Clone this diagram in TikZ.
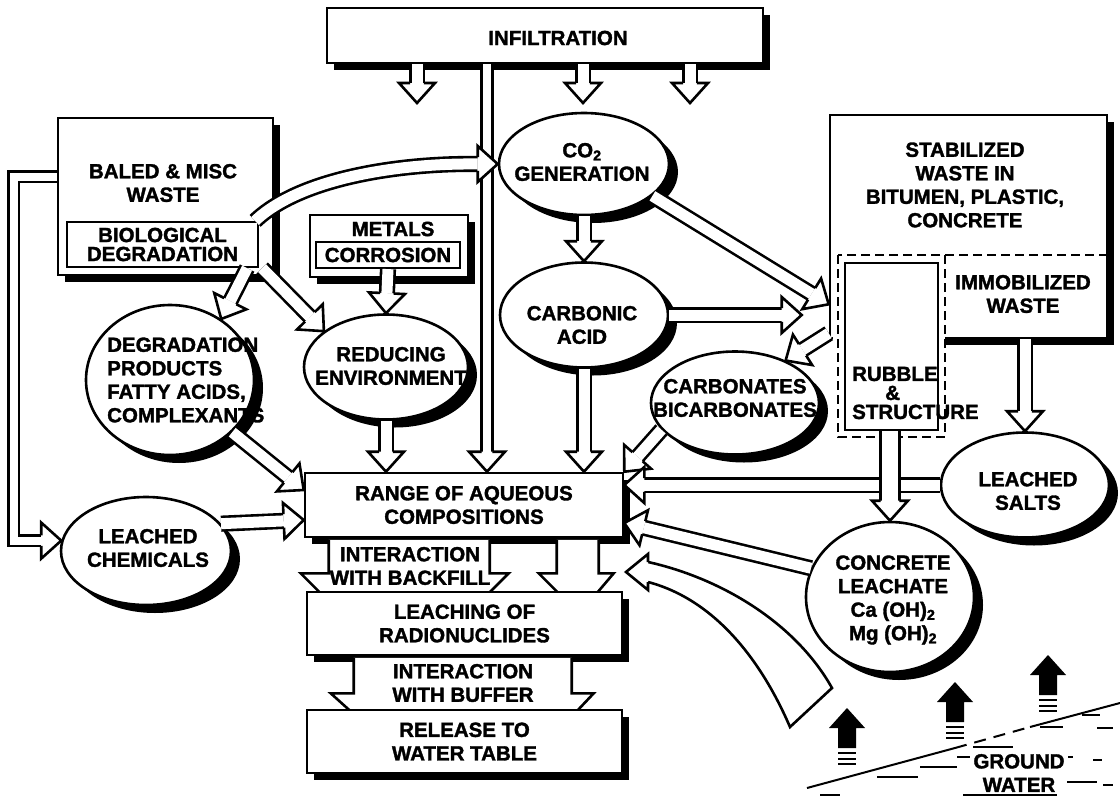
\documentclass[tikz,border=0pt]{standalone}
\usepackage{fontspec}
\setmainfont{Liberation Sans}[BoldFeatures={FakeBold=1.6}]
\usetikzlibrary{calc, shapes.geometric, shadows}

% open arrow head from base #1 to tip #2, shaft half width \sw
\def\sw{6.8}
\newcommand{\flowhead}[2]{%
  \fill[white] ($(#1)!18pt!90:(#2)$) -- (#2) -- ($(#1)!18pt!-90:(#2)$) -- cycle;
  \draw[rim] ($(#1)!\sw pt!90:(#2)$) -- ($(#1)!18pt!90:(#2)$) -- (#2)
     -- ($(#1)!18pt!-90:(#2)$) -- ($(#1)!\sw pt!-90:(#2)$);}
% hollow block arrow #2 -> #3, inner width #1
\newcommand{\flowarrow}[3][11]{%
  \coordinate (src) at (#2);
  \coordinate (dst) at (#3);
  \coordinate (hb) at ($(dst)!20pt!(src)$);
  \pgfmathsetmacro\sw{#1/2+1.3}%
  \draw[band, double distance=#1pt] (src) -- (hb);
  \flowhead{hb}{dst}}

\begin{document}
\begin{tikzpicture}[x=1pt, y=-1pt,
    every node/.style={inner sep=0pt},
    lab/.style={font=\bfseries\fontsize{20.5}{23.5}\selectfont, align=center},
    tight/.style={font=\bfseries\fontsize{20.5}{19}\selectfont, align=center},
    rim/.style={line width=2.6pt},
    dropsh/.style={drop shadow={shadow xshift=7pt, shadow yshift=-7pt, opacity=1, fill=black}},
    box/.style={draw, rim, fill=white, dropsh},
    inbox/.style={draw, line width=2.2pt, fill=white},
    blob/.style={ellipse, draw, rim, fill=white,
        drop shadow={shadow xshift=9pt, shadow yshift=-8pt, opacity=1, fill=black}},
    band/.style={draw=black, line width=2.6pt, double=white, double distance=11pt},
    dashline/.style={line width=2pt, dash pattern=on 9pt off 5pt},
    wave/.style={line width=2pt},
]
\useasboundingbox (0,0) rectangle (1120,798);
\fill[white] (0,0) rectangle (1120,798);

% sources
\node[box, minimum width=436pt, minimum height=55pt] (infil) at (545,35.5) {};
\node[box, minimum width=215pt, minimum height=157pt] (baled) at (165.5,196.5) {};
\node[inbox, tight, minimum width=191pt, minimum height=45pt] (bio) at (162.5,244.5) {BIOLOGICAL\\DEGRADATION};
\node[box, minimum width=158pt, minimum height=62pt] (metals) at (389,246) {};
\node[inbox, lab, minimum width=144pt, minimum height=26pt] (corr) at (388,255) {CORROSION};
\node[blob, minimum width=170pt, minimum height=102pt] (co2) at (584,164) {};
\node[box, minimum width=277pt, minimum height=223pt] (stab) at (968.5,226.5) {};
\fill[white] (833,250) rectangle (945,349);
\draw[dashline] (838,255) rectangle (945,437) (945,255) -- (1107,255);
\node[inbox, minimum width=93pt, minimum height=167pt] (rubble) at (891.5,346.5) {};

% products
\node[blob, minimum width=168pt, minimum height=150pt] (degprod) at (170,380) {};
\node[blob, minimum width=164pt, minimum height=105pt] (reducing) at (386,367) {};
\node[blob, minimum width=168pt, minimum height=105pt] (carbonic) at (584,315) {};
\node[blob, minimum width=168pt, minimum height=103pt] (carbonates) at (735,403) {};
\node[blob, minimum width=170pt, minimum height=108pt] (leachchem) at (146,551) {};
\node[blob, minimum width=168pt, minimum height=105pt] (leachsalts) at (1025,485) {};
\node[blob, minimum width=168pt, minimum height=150pt] (concrete) at (890,597) {};
\node[box, lab, minimum width=318pt, minimum height=64pt] (range) at (464,505) {RANGE OF AQUEOUS\\COMPOSITIONS};

% infiltration
\coordinate (drop1) at (417,103);
\coordinate (drop2) at (583,103);
\coordinate (drop3) at (690,103);
\foreach \d in {drop1,drop2,drop3}{\flowarrow{infil.south -| \d}{\d}}
\coordinate (rainx) at (487,0);
\flowarrow[8]{infil.south -| rainx}{range.north -| rainx}

% biological degradation
\coordinate (bioup) at ([xshift=-4pt]bio.north east);
\coordinate (co2hb) at ([xshift=-20pt]co2.west);
\def\sw{6.8}
\draw[band] (bioup) .. controls (300,178) and (400,163) .. (co2hb);
\flowhead{co2hb}{co2.west}
\coordinate (bioleft) at ([xshift=-12pt]bio.south east);
\coordinate (bioright) at ([xshift=3pt]bio.south east);
\flowarrow{bioleft}{degprod.50}
\flowarrow{bioright}{reducing.150}
\flowarrow{corr.south}{reducing.north}
\flowarrow{reducing.south}{range.north -| reducing}

% carbon dioxide chain
\coordinate (stabin) at ([yshift=35pt]stab.south west);
\coordinate (stabin2) at ($(stab.south west |- carbonic.east)+(-27,0)$);
\coordinate (stabout) at ([yshift=6pt]stab.south west);
\flowarrow{co2.south}{carbonic.north}
\flowarrow{co2.-25}{stabin}
\flowarrow{carbonic.east}{stabin2}
\flowarrow{stabout}{carbonates.40}
\flowarrow{carbonic.south}{range.north -| carbonic}
\flowarrow{carbonates.200}{range.north east}

% left side
\coordinate (rangein1) at ([yshift=15pt]range.west);
\coordinate (rangein2) at ([yshift=-15pt]range.west);
\flowarrow{degprod.-40}{rangein1}
\flowarrow{leachchem.20}{rangein2}
\coordinate (feedout) at ([yshift=20pt]baled.west);
\coordinate (feedin) at (leachchem.173);
\coordinate (feedhb) at ([xshift=-20pt]feedin);
\def\sw{5.3}
\draw[band, double distance=8pt] (feedout) -- ++(-43,0) |- (feedhb);
\flowhead{feedhb}{feedin}

% right side
\coordinate (rangein3) at (range.east |- leachsalts.west);
\coordinate (rangein4) at ([yshift=-18pt]range.east);
\flowarrow{leachsalts.west}{rangein3}
\flowarrow{leachsalts.north |- stab.south}{leachsalts.north}
\flowarrow[16]{concrete.north |- rubble.south}{concrete.north}
\flowarrow{concrete.160}{rangein4}

% ground water horn
\coordinate (hornhb) at (648,572);
\coordinate (horntip) at (626,572);
\filldraw[rim, fill=white] (648,562) .. controls (720,578) and (795,622) .. (832,688)
    -- (790,727) .. controls (762,662) and (716,600) .. (648,582);
\def\sw{10}
\flowhead{hornhb}{horntip}

% the column of stages
\begin{scope}[shift={(range.south west)}]
  \fill[white] (25,1.5) -- (25,35) -- (-3,35) -- (17,55) -- (185,55) -- (205,35) -- (186,35) -- (186,1.5) -- cycle;
  \draw[rim] (25,1.5) -- (25,35) -- (-3,35) -- (17,55) (185,55) -- (205,35) -- (186,35) -- (186,1.5);
  \fill[white] (253,1.5) -- (253,35) -- (235,35) -- (255,55) -- (293,55) -- (310,35) -- (295,35) -- (295,1.5) -- cycle;
  \draw[rim] (253,1.5) -- (253,35) -- (235,35) -- (255,55) (293,55) -- (310,35) -- (295,35) -- (295,1.5);
\end{scope}
\node[box, lab, minimum width=315pt, minimum height=63pt] (leaching) at (464.5,623.5) {LEACHING OF\\RADIONUCLIDES};
\begin{scope}[shift={(leaching.south west)}]
  \fill[white] (48,1.5) -- (48,37) -- (25,37) -- (45,55) -- (271,55) -- (288,37) -- (266,37) -- (266,1.5) -- cycle;
  \draw[rim] (48,1.5) -- (48,37) -- (25,37) -- (45,55) (271,55) -- (288,37) -- (266,37) -- (266,1.5);
\end{scope}
\node[box, lab, minimum width=315pt, minimum height=63pt] (release) at (464.5,741.5) {RELEASE TO\\WATER TABLE};

% labels
\node[lab] (infiltxt) at (558,38) {INFILTRATION};
\node[lab] (baledtxt) at (163,183) {BALED \& MISC\\WASTE};
\node[lab] (metalstxt) at (393,229) {METALS};
\node[lab] (co2txt) at (582,162) {CO\textsubscript{2}\\GENERATION};
\node[lab] (stabtxt) at (965,185) {STABILIZED\\WASTE IN\\BITUMEN, PLASTIC,\\CONCRETE};
\node[lab] (immobtxt) at (1023,294) {IMMOBILIZED\\WASTE};
\node[tight, align=left, anchor=west] (rubbletxt) at (852,393) {RUBBLE\\\hspace*{33pt}\&\\STRUCTURE};
\node[lab, align=left, anchor=west] (degprodtxt) at (107,380) {DEGRADATION\\PRODUCTS\\FATTY ACIDS,\\COMPLEXANTS};
\node[lab] (reducingtxt) at (391,366) {REDUCING\\ENVIRONMENT};
\node[lab] (carbonictxt) at (582,325) {CARBONIC\\ACID};
\node[lab] (carbonatestxt) at (735,398) {CARBONATES\\BICARBONATES};
\node[lab] (leachchemtxt) at (148,548) {LEACHED\\CHEMICALS};
\node[lab] (leachsaltstxt) at (1028,491) {LEACHED\\SALTS};
\node[lab] (concretetxt) at (893,600) {CONCRETE\\LEACHATE\\Ca (OH)\textsubscript{2}\\Mg (OH)\textsubscript{2}};
\node[lab] (backfilltxt) at (410,566) {INTERACTION\\WITH BACKFILL};
\node[lab] (buffertxt) at (463,683) {INTERACTION\\WITH BUFFER};

% ground water
\foreach \gx/\gy in {847/708, 955/682, 1048/655}{
  \fill (\gx,\gy) -- ++(18,20) -- ++(-9,0) -- ++(0,20) -- ++(-18,0) -- ++(0,-20) -- ++(-9,0) -- cycle;
  \foreach \k in {0,1,2}
    \draw[wave] (\gx-9,\gy+45+\k*5.5) -- ++(18,0);}
\draw[wave] (807,788) -- (955,748);
\draw[wave, dash pattern=on 12pt off 8pt] (955,748) -- (1030,727);
\draw[wave] (1030,727) -- (1120,703);
\foreach \ax/\bx/\wy in {1082/1100/715, 1040/1063/727, 1097/1113/728, 973/1013/747,
    957/970/757, 1068/1073/757, 1093/1102/760, 920/957/767, 877/918/777,
    1067/1097/782, 1103/1113/785, 820/840/795, 963/1057/795}
  \draw[wave] (\ax,\wy) -- (\bx,\wy);
\node[lab] (gwtxt) at (1019,773) {GROUND\\WATER};
\end{tikzpicture}
\end{document}
